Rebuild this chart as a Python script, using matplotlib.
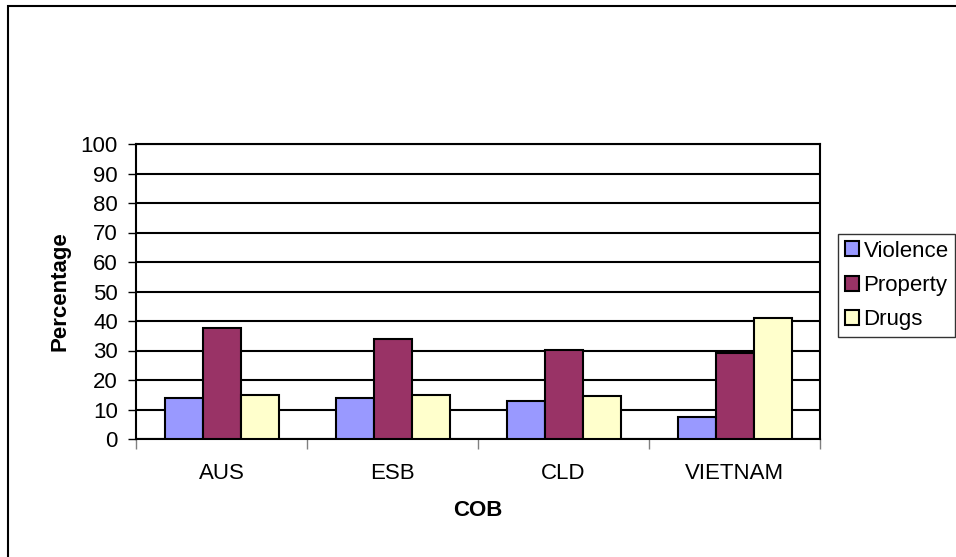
import matplotlib
matplotlib.use("Agg")
import matplotlib.pyplot as plt
from matplotlib.patches import Rectangle
import numpy as np

plt.rcParams['font.family'] = ['Liberation Sans', 'DejaVu Sans']

categories = ["AUS", "ESB", "CLD", "VIETNAM"]
series_names = ["Violence", "Property", "Drugs"]
violence = [13.8, 13.8, 12.8, 7.3]
property_ = [37.6, 34.0, 30.2, 29.2]
drugs = [14.8, 14.8, 14.7, 41.1]
y_ticks = [0, 10, 20, 30, 40, 50, 60, 70, 80, 90, 100]

colors = ["#9999FF", "#993366", "#FFFFCC"]
FS = 16

W, H = 956, 557
fig = plt.figure(figsize=(W / 100, H / 100), dpi=100)

# outer chart-area frame (extends past the right and bottom edges)
fig.patches.append(Rectangle((8 / W, -0.05), 1.2, (H - 6) / H + 0.05,
                             transform=fig.transFigure, fill=False,
                             edgecolor="black", linewidth=1.5))

left, right, top, bottom = 136, 820, 144, 439
ax = fig.add_axes([left / W, 1 - bottom / H, (right - left) / W, (bottom - top) / H])

x = np.arange(len(categories))
bw = 1 / 4.5
for i, (vals, name) in enumerate(zip([violence, property_, drugs], series_names)):
    ax.bar(x + (i - 1) * bw, vals, width=bw, color=colors[i], edgecolor="black",
           linewidth=1.5, label=name, zorder=3)

ax.set_xlim(-0.5, len(categories) - 0.5)
ax.set_ylim(0, 100)
ax.set_yticks(y_ticks)
ax.set_yticklabels([str(t) for t in y_ticks], fontsize=FS)
ax.yaxis.grid(True, color="black", linewidth=1.5, zorder=0)
ax.set_axisbelow(True)

# category labels centred, ticks on category boundaries
ax.set_xticks(np.arange(len(categories) + 1) - 0.5)
ax.set_xticklabels([])
ax.set_xticks(x, minor=True)
ax.set_xticklabels(categories, minor=True, fontsize=FS)
ax.tick_params(axis="x", which="minor", length=0, pad=17)
ax.tick_params(axis="x", which="major", length=7, width=1, color="#808080", direction="out")
ax.tick_params(axis="y", length=6, width=1, direction="out", pad=7)

for s in ["left", "bottom", "right", "top"]:
    ax.spines[s].set_color("black")
    ax.spines[s].set_linewidth(1.5)

ax.set_ylabel("Percentage", fontsize=FS, fontweight="bold", labelpad=7)
ax.set_xlabel("COB", fontsize=FS, fontweight="bold", labelpad=12)

leg = ax.legend(loc="upper left", bbox_to_anchor=(838 / W, 1 - 234 / H),
                bbox_transform=fig.transFigure, fontsize=FS, frameon=True,
                fancybox=False, edgecolor="black", borderpad=0.3,
                handlelength=0.65, handleheight=0.65, handletextpad=0.2,
                labelspacing=0.6, borderaxespad=0)
leg.get_frame().set_linewidth(1.0)

fig.savefig("out.png", dpi=100)
